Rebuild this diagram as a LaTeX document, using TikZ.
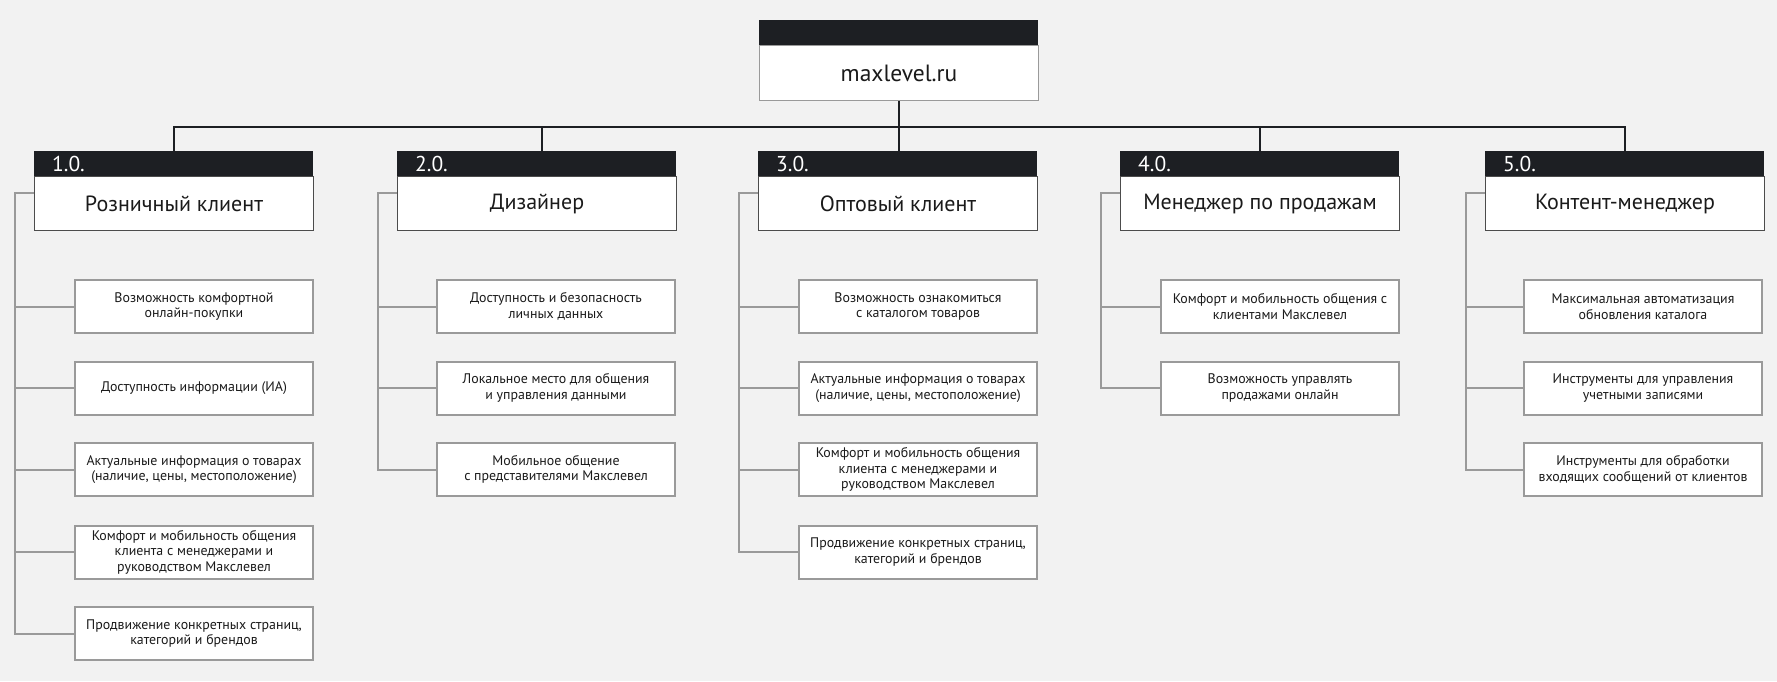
\documentclass[tikz,border=0pt]{standalone}
\usepackage{fontspec}
\setmainfont{PT Sans}
\definecolor{hdrfill}{HTML}{1D1F23}
\definecolor{bgfill}{HTML}{F2F2F2}
\definecolor{twiggray}{HTML}{9A9A9A}
\definecolor{inkdark}{HTML}{1A1A1A}
\tikzset{
    hdr/.style={fill=hdrfill, text=white, anchor=north west, inner xsep=18pt,
        inner ysep=0pt, text width=243pt, align=left, minimum height=25pt,
        font=\fontsize{21.5}{22}\selectfont},
    roleb/.style={draw=black!70, line width=1pt, fill=white, text=inkdark,
        anchor=north west, minimum width=279pt, minimum height=54pt,
        font=\fontsize{22}{24}\selectfont},
    needb/.style={draw=twiggray, line width=2pt, fill=white, text=inkdark,
        anchor=north west, minimum width=238pt, minimum height=53pt,
        align=center, inner sep=0pt, font=\fontsize{13.9}{15.5}\selectfont},
    bus/.style={draw=hdrfill, line width=2pt},
    twig/.style={draw=twiggray, line width=2pt}
}
\begin{document}
\begin{tikzpicture}[x=1pt,y=-1pt]
                \fill[bgfill] (0,0) rectangle (1777,681);

                % top node
                \node[roleb, draw=twiggray, minimum height=55pt,
                    font=\fontsize{23.5}{24}\selectfont]
                    (top) at (759,45) {maxlevel.ru};
                \node[hdr] (th) at (759,20) {};

                % roles
                \node[roleb] (r1) at (34,176) {Розничный клиент};
                \node[hdr] (h1) at (34,151) {1.0.};
                \node[roleb] (r2) at (397,176) {Дизайнер};
                \node[hdr] (h2) at (397,151) {2.0.};
                \node[roleb] (r3) at (758,176) {Оптовый клиент};
                \node[hdr] (h3) at (758,151) {3.0.};
                \node[roleb] (r4) at (1120,176) {Менеджер по продажам};
                \node[hdr] (h4) at (1120,151) {4.0.};
                \node[roleb] (r5) at (1485,176) {Контент-менеджер};
                \node[hdr] (h5) at (1485,151) {5.0.};

                \draw[bus] (top.south) -- ++(0,25.5) -| (h1.north);
                \draw[bus] (top.south) -- ++(0,25.5) -| ([xshift=5pt]h2.north);
                \draw[bus] (top.south) -- (top.south |- h3.north);
                \draw[bus] (top.south) -- ++(0,25.5) -| (h4.north);
                \draw[bus] (top.south) -- ++(0,25.5) -| (h5.north);

                % 1.0.
                \node[needb] (n11) at (74,279)
                    {Возможность комфортной\\онлайн-покупки};
                \node[needb] (n12) at (74,360.5)
                    {Доступность информации (ИА)};
                \node[needb] (n13) at (74,442)
                    {Актуальные информация о товарах\\(наличие, цены, местоположение)};
                \node[needb] (n14) at (74,524.5)
                    {Комфорт и мобильность общения\\клиента с менеджерами и\\руководством Макслевел};
                \node[needb] (n15) at (74,606)
                    {Продвижение конкретных страниц,\\категорий и брендов};
                \coordinate (t1) at ([xshift=-19pt,yshift=10.5pt]r1.west);
                \draw[twig] ([yshift=10.5pt]r1.west) -- (t1) -- (t1 |- n15.west) -- (n15.west);
                \draw[twig] (t1 |- n11.west) -- (n11.west);
                \draw[twig] (t1 |- n12.west) -- (n12.west);
                \draw[twig] (t1 |- n13.west) -- (n13.west);
                \draw[twig] (t1 |- n14.west) -- (n14.west);

                % 2.0.
                \node[needb] (n21) at (436,279)
                    {Доступность и безопасность\\личных данных};
                \node[needb] (n22) at (436,360.5)
                    {Локальное место для общения\\и управления данными};
                \node[needb] (n23) at (436,442)
                    {Мобильное общение\\с представителями Макслевел};
                \coordinate (t2) at ([xshift=-19pt,yshift=10.5pt]r2.west);
                \draw[twig] ([yshift=10.5pt]r2.west) -- (t2) -- (t2 |- n23.west) -- (n23.west);
                \draw[twig] (t2 |- n21.west) -- (n21.west);
                \draw[twig] (t2 |- n22.west) -- (n22.west);

                % 3.0.
                \node[needb] (n31) at (798,279)
                    {Возможность ознакомиться\\с каталогом товаров};
                \node[needb] (n32) at (798,360.5)
                    {Актуальные информация о товарах\\(наличие, цены, местоположение)};
                \node[needb] (n33) at (798,442)
                    {Комфорт и мобильность общения\\клиента с менеджерами и\\руководством Макслевел};
                \node[needb] (n34) at (798,524.5)
                    {Продвижение конкретных страниц,\\категорий и брендов};
                \coordinate (t3) at ([xshift=-19pt,yshift=10.5pt]r3.west);
                \draw[twig] ([yshift=10.5pt]r3.west) -- (t3) -- (t3 |- n34.west) -- (n34.west);
                \draw[twig] (t3 |- n31.west) -- (n31.west);
                \draw[twig] (t3 |- n32.west) -- (n32.west);
                \draw[twig] (t3 |- n33.west) -- (n33.west);

                % 4.0.
                \node[needb] (n41) at (1160,279)
                    {Комфорт и мобильность общения с\\клиентами Макслевел};
                \node[needb] (n42) at (1160,360.5)
                    {Возможность управлять\\продажами онлайн};
                \coordinate (t4) at ([xshift=-19pt,yshift=10.5pt]r4.west);
                \draw[twig] ([yshift=10.5pt]r4.west) -- (t4) -- (t4 |- n42.west) -- (n42.west);
                \draw[twig] (t4 |- n41.west) -- (n41.west);

                % 5.0.
                \node[needb] (n51) at (1523,279)
                    {Максимальная автоматизация\\обновления каталога};
                \node[needb] (n52) at (1523,360.5)
                    {Инструменты для управления\\учетными записями};
                \node[needb] (n53) at (1523,442)
                    {Инструменты для обработки\\входящих сообщений от клиентов};
                \coordinate (t5) at ([xshift=-19pt,yshift=10.5pt]r5.west);
                \draw[twig] ([yshift=10.5pt]r5.west) -- (t5) -- (t5 |- n53.west) -- (n53.west);
                \draw[twig] (t5 |- n51.west) -- (n51.west);
                \draw[twig] (t5 |- n52.west) -- (n52.west);
            \end{tikzpicture}
\end{document}
